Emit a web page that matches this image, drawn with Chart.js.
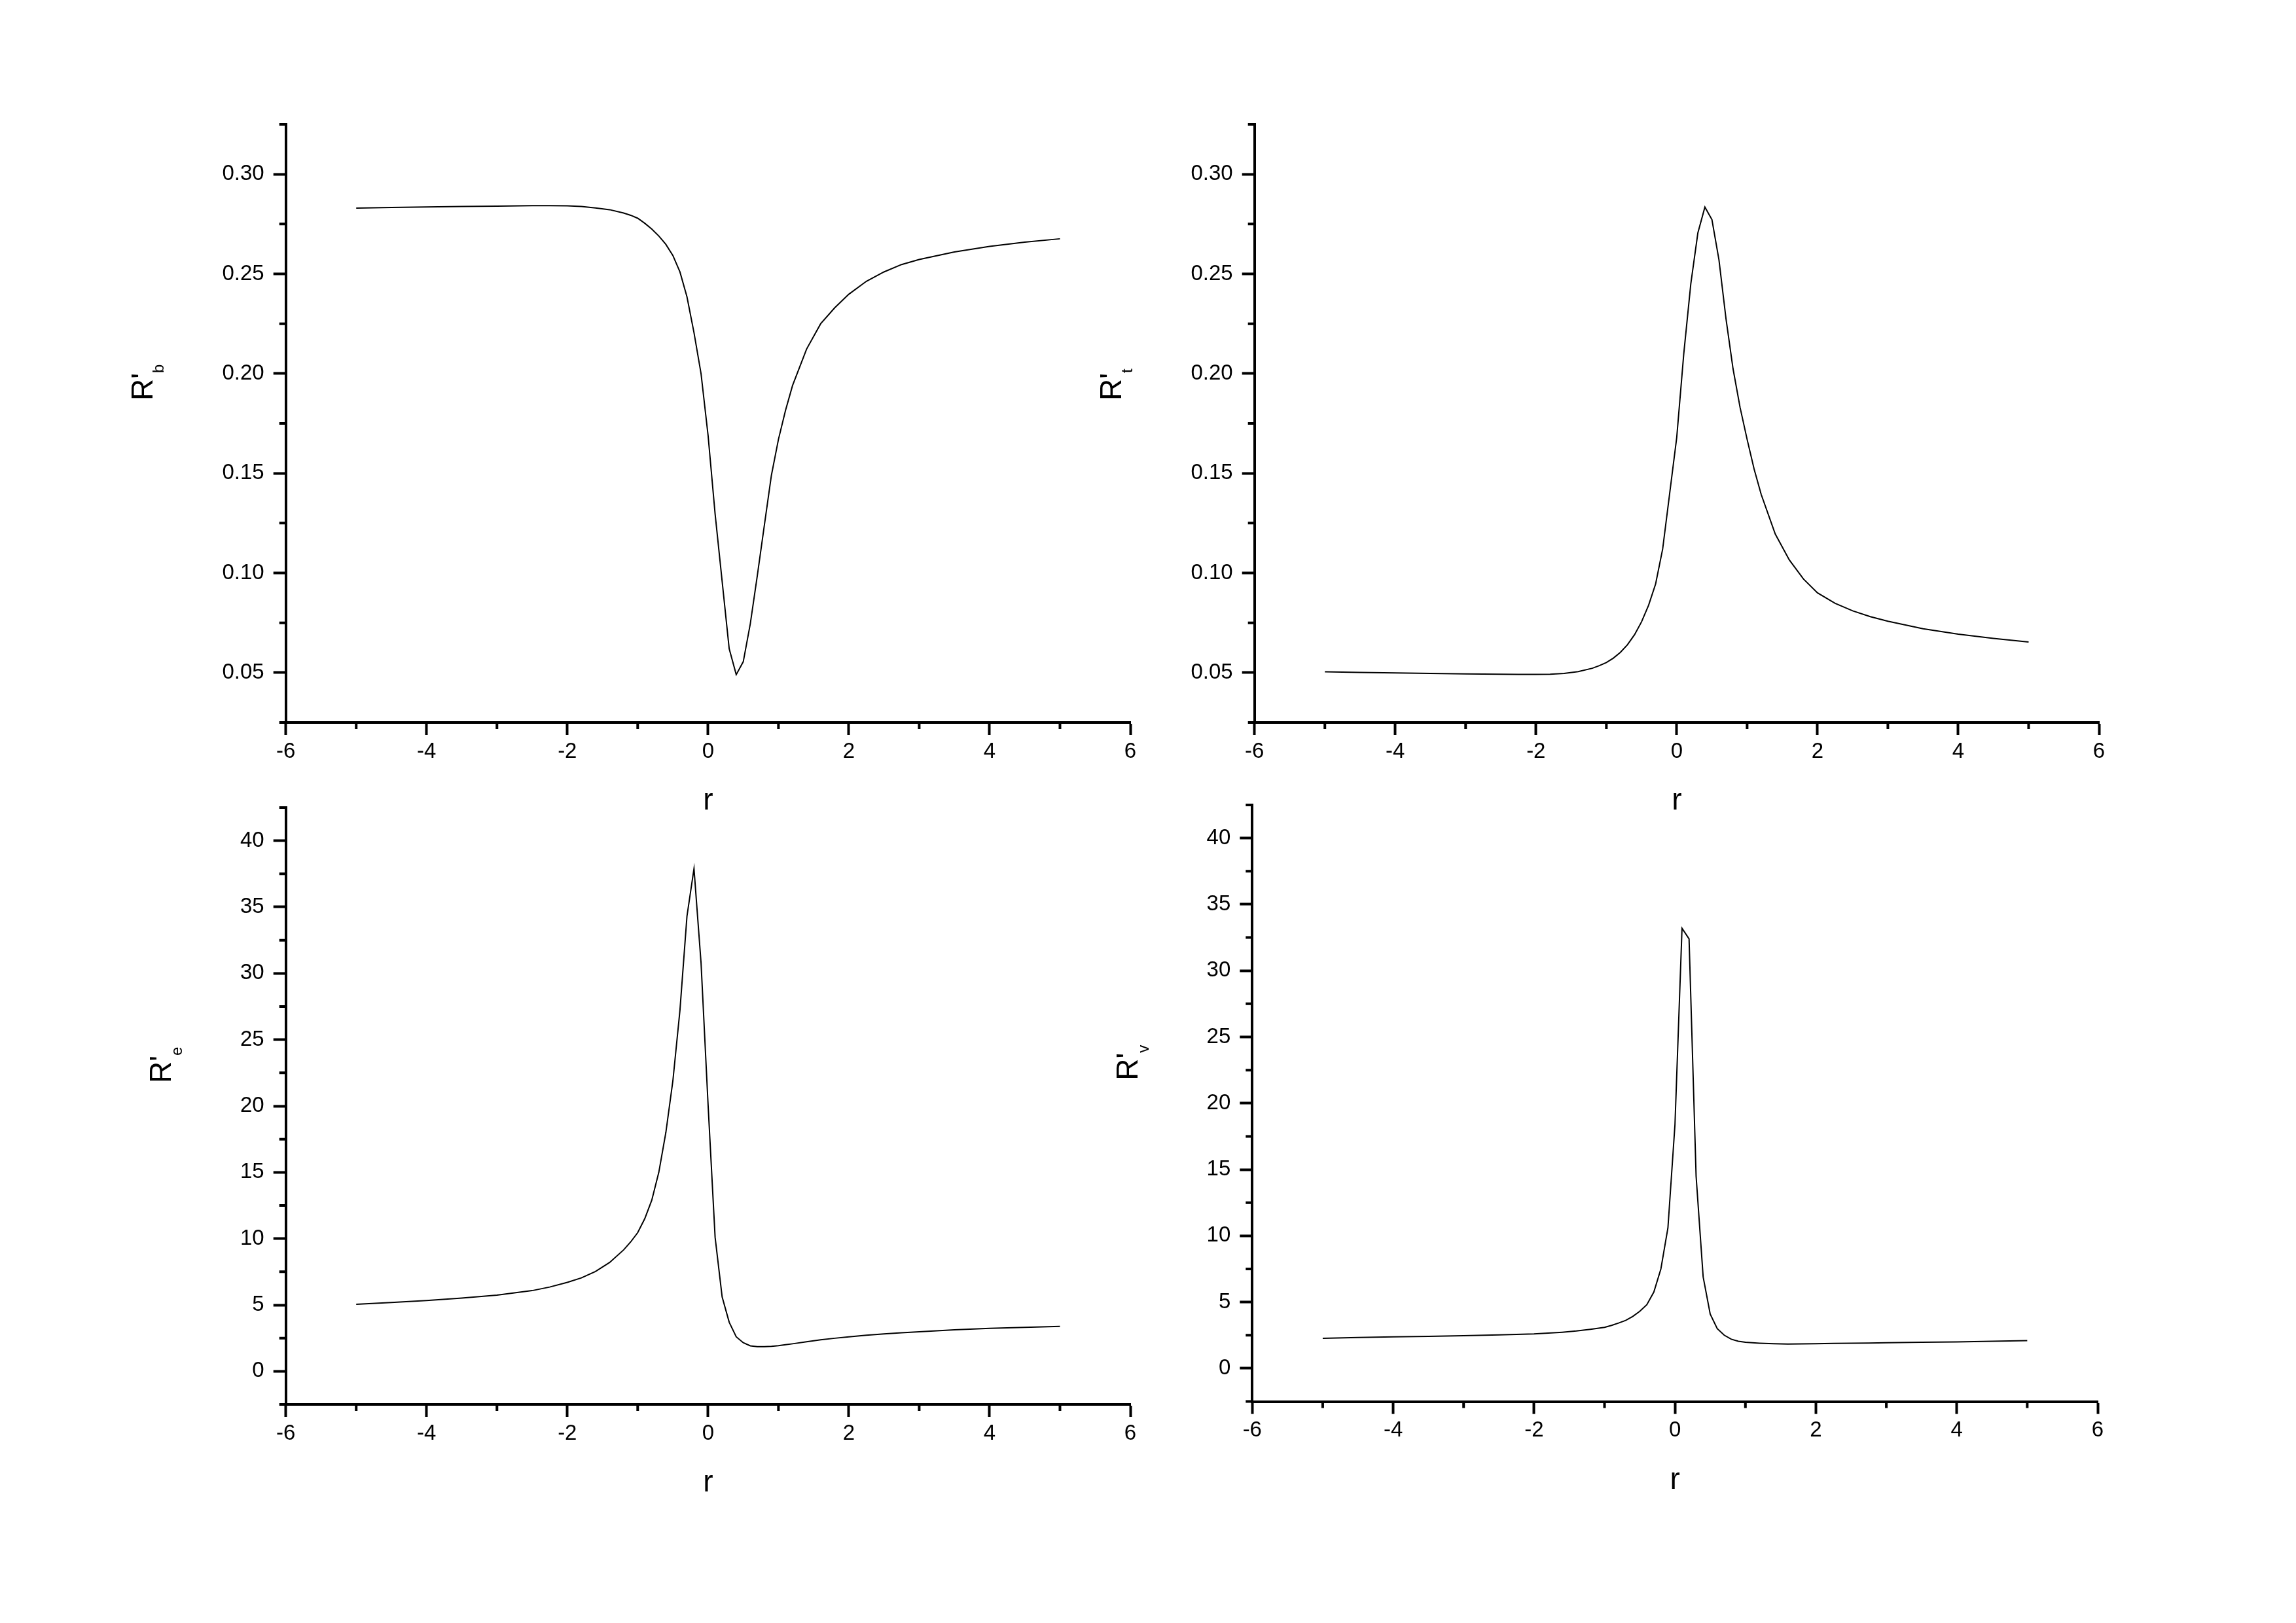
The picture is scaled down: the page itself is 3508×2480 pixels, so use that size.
<!DOCTYPE html>
<html>
<head>
<meta charset="utf-8">
<title>R' vs r</title>
<script src="https://cdn.jsdelivr.net/npm/chart.js@4.4.1/dist/chart.umd.min.js"></script>
<style>
  html, body { margin: 0; padding: 0; background: #fff; }
  body { width: 3508px; height: 2480px; position: relative; overflow: hidden; }
  canvas { position: absolute; }
</style>
</head>
<body>
<canvas id="pb"></canvas>
<canvas id="pt"></canvas>
<canvas id="pe"></canvas>
<canvas id="pv"></canvas>
<script>
// r values (shared by all four panels)
const r = [-5, -4.5, -4, -3.5, -3, -2.5, -2.25, -2, -1.8, -1.6, -1.4, -1.2, -1.1, -1.0,
  -0.9, -0.8, -0.7, -0.6, -0.5, -0.4, -0.3, -0.2, -0.1, 0, 0.1, 0.2, 0.3, 0.4,
  0.5, 0.6, 0.7, 0.8, 0.9, 1.0, 1.1, 1.2, 1.4, 1.6, 1.8, 2.0, 2.25, 2.5, 2.75, 3, 3.5, 4, 4.5, 5];

// R'b
const rb = [0.2830, 0.2833, 0.2836, 0.2838, 0.2840, 0.2842, 0.2842, 0.2841, 0.2838, 0.2831, 0.2822, 0.2805, 0.2794, 0.2779,
  0.2754, 0.2725, 0.2690, 0.2648, 0.2592, 0.2510, 0.2385, 0.2205, 0.2000, 0.1690, 0.1296, 0.0958, 0.0620, 0.0490,
  0.0555, 0.0745, 0.0987, 0.1240, 0.1490, 0.1670, 0.1815, 0.1940, 0.2123, 0.2250, 0.2330, 0.2398, 0.2463, 0.2510, 0.2547, 0.2572, 0.2610, 0.2638, 0.2659, 0.2676];

// R't
const rt = [0.0504, 0.0501, 0.0499, 0.0496, 0.0494, 0.0492, 0.0491, 0.0491, 0.0492, 0.0496, 0.0505, 0.0522, 0.0535, 0.0551,
  0.0573, 0.0602, 0.0640, 0.0690, 0.0755, 0.0838, 0.0945, 0.1120, 0.1400, 0.1680, 0.2100, 0.2450, 0.2705, 0.2835,
  0.2772, 0.2570, 0.2275, 0.2024, 0.1830, 0.1670, 0.1520, 0.1394, 0.1195, 0.1065, 0.0970, 0.0900, 0.0848, 0.0810, 0.0781, 0.0758, 0.0720, 0.0693, 0.0672, 0.0654];

// R'e
const re = [5.05, 5.18, 5.33, 5.52, 5.74, 6.08, 6.35, 6.70, 7.04, 7.52, 8.20, 9.15, 9.75, 10.45,
  11.5, 12.9, 15.0, 18.0, 21.9, 27.2, 34.3, 37.9, 30.8, 20.1, 10.1, 5.6, 3.7, 2.6,
  2.15, 1.92, 1.85, 1.85, 1.88, 1.93, 2.00, 2.07, 2.22, 2.37, 2.49, 2.60, 2.72, 2.82, 2.90, 2.98, 3.12, 3.23, 3.31, 3.38];

// R'v
const rv = [2.27, 2.33, 2.38, 2.42, 2.46, 2.53, 2.56, 2.60, 2.66, 2.73, 2.82, 2.95, 3.02, 3.10,
  3.24, 3.42, 3.62, 3.92, 4.30, 4.80, 5.76, 7.50, 10.6, 18.4, 33.2, 32.4, 14.5, 6.9,
  4.10, 3.00, 2.50, 2.20, 2.05, 1.97, 1.93, 1.90, 1.86, 1.84, 1.85, 1.86, 1.88, 1.90, 1.91, 1.93, 1.97, 2.00, 2.05, 2.10];

// tick values
const xMajor = [-6, -4, -2, 0, 2, 4, 6];
const xMinor = [-5, -3, -1, 1, 3, 5];
const smallMajor = [0.05, 0.10, 0.15, 0.20, 0.25, 0.30];
const smallMinor = [0.025, 0.075, 0.125, 0.175, 0.225, 0.275, 0.325];
const bigMajor = [0, 5, 10, 15, 20, 25, 30, 35, 40];
const bigMinor = [-2.5, 2.5, 7.5, 12.5, 17.5, 22.5, 27.5, 32.5, 37.5, 42.5];

const FONT = '"Liberation Sans", Arial, sans-serif';
Chart.defaults.font.family = FONT;
Chart.defaults.color = '#000';

// minor ticks and the axis titles (subscript needs manual drawing)
const decor = {
  id: 'decor',
  afterDraw(chart, args, opts) {
    const { ctx, chartArea: a, scales: { x, y } } = chart;
    ctx.save();
    ctx.strokeStyle = '#000';
    ctx.lineWidth = 4;
    ctx.beginPath();
    xMinor.forEach(v => {
      const px = x.getPixelForValue(v);
      ctx.moveTo(px, a.bottom);
      ctx.lineTo(px, a.bottom + 10);
    });
    opts.yMinor.forEach(v => {
      const py = y.getPixelForValue(v);
      ctx.moveTo(a.left, py);
      ctx.lineTo(a.left - 10, py);
    });
    ctx.stroke();

    ctx.fillStyle = '#000';
    ctx.font = '46px ' + FONT;
    ctx.textAlign = 'center';
    ctx.textBaseline = 'alphabetic';
    ctx.fillText('r', (a.left + a.right) / 2, a.bottom + 133);

    ctx.font = '33px ' + FONT;
    const w = Math.max(...y.ticks.map(t => ctx.measureText(t.label).width));
    const bx = a.left - 33 - w - 106;
    const by = (a.top + a.bottom) / 2 - 35;
    ctx.translate(bx, by);
    ctx.rotate(-Math.PI / 2);
    ctx.textAlign = 'left';
    ctx.font = '46px ' + FONT;
    ctx.fillText("R'", 0, 0);
    const rw = ctx.measureText("R'").width;
    ctx.font = '24px ' + FONT;
    ctx.fillText(opts.sub, rw, 17);
    ctx.restore();
  }
};

const tickGrid = { display: true, drawOnChartArea: false, drawTicks: true, tickLength: 19, tickWidth: 4, tickColor: '#000' };
const axisBorder = { display: true, color: '#000', width: 4 };

function makePanel(id, values, sub, yMajor, yMinor, yMin, yMax, digits, box, area) {
  const canvas = document.getElementById(id);
  canvas.width = box.w;
  canvas.height = box.h;
  Object.assign(canvas.style, { left: box.x + 'px', top: box.y + 'px', width: box.w + 'px', height: box.h + 'px' });

  return new Chart(canvas, {
    type: 'line',
    data: {
      datasets: [{
        data: r.map((x, i) => ({ x: x, y: values[i] })),
        borderColor: '#000',
        borderWidth: 2,
        pointRadius: 0,
        tension: 0,
        fill: false
      }]
    },
    options: {
      responsive: false,
      animation: false,
      devicePixelRatio: 1,
      layout: { padding: { top: area.top - box.y, right: box.x + box.w - area.right, left: 0, bottom: 0 } },
      plugins: {
        legend: { display: false },
        tooltip: { enabled: false },
        decor: { sub: sub, yMinor: yMinor }
      },
      scales: {
        x: {
          type: 'linear',
          position: 'bottom',
          min: -6,
          max: 6,
          afterBuildTicks: s => { s.ticks = xMajor.map(v => ({ value: v })); },
          afterFit: s => { s.height = box.y + box.h - area.bottom; },
          ticks: { font: { size: 33 }, padding: 6, maxRotation: 0, autoSkip: false, callback: v => String(v) },
          grid: tickGrid,
          border: axisBorder
        },
        y: {
          type: 'linear',
          position: 'left',
          min: yMin,
          max: yMax,
          afterBuildTicks: s => { s.ticks = yMajor.map(v => ({ value: v })); },
          afterFit: s => { s.width = area.left - box.x; },
          ticks: { font: { size: 33 }, padding: 14, autoSkip: false, callback: v => v.toFixed(digits) },
          grid: tickGrid,
          border: axisBorder
        }
      }
    },
    plugins: [decor]
  });
}

makePanel('pb', rb, 'b', smallMajor, smallMinor, 0.025, 0.325, 2,
  { x: 0, y: 0, w: 1754, h: 1280 }, { left: 436.7, top: 190, right: 1727, bottom: 1104 });
makePanel('pt', rt, 't', smallMajor, smallMinor, 0.025, 0.325, 2,
  { x: 1600, y: 0, w: 1908, h: 1280 }, { left: 1916.7, top: 190, right: 3207, bottom: 1104 });
makePanel('pe', re, 'e', bigMajor, bigMinor, -2.5, 42.5, 0,
  { x: 0, y: 1180, w: 1754, h: 1300 }, { left: 436.7, top: 1234, right: 1727, bottom: 2146 });
makePanel('pv', rv, 'v', bigMajor, bigMinor, -2.5, 42.5, 0,
  { x: 1600, y: 1180, w: 1908, h: 1300 }, { left: 1913.3, top: 1230, right: 3205, bottom: 2141.6 });
</script>
</body>
</html>
